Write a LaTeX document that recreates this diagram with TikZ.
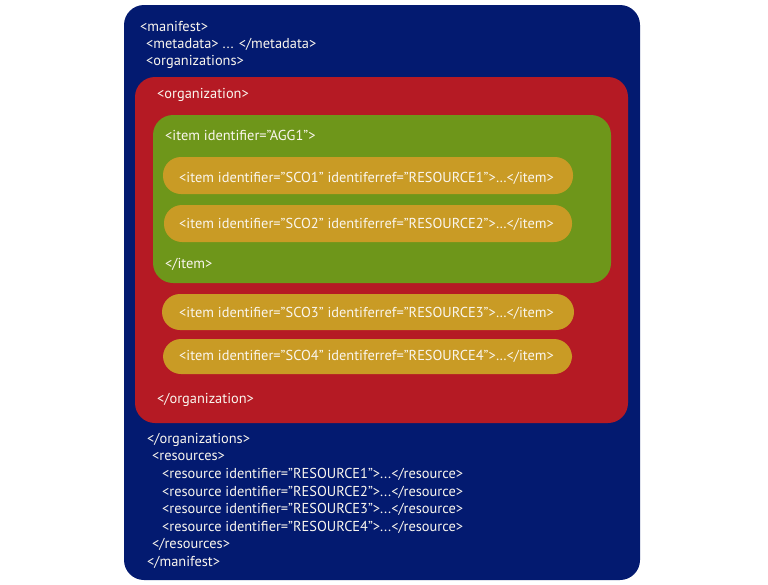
\documentclass[tikz,border=0pt]{standalone}
\usepackage{fontspec}
\setmainfont{PT Sans}
\definecolor{navy}{HTML}{031A70}
\definecolor{xred}{HTML}{B51A24}
\definecolor{xgreen}{HTML}{6E961A}
\definecolor{gold}{HTML}{C99B25}
\definecolor{txt}{HTML}{FAF6EE}
\begin{document}
\begin{tikzpicture}[x=1pt,y=-1pt,
  panel/.style={rounded corners=20pt},
  pill/.style={fill=gold, rounded corners=18pt},
  code/.style={anchor=base west, inner sep=0pt, text=txt, font=\fontsize{14.4}{16}\selectfont}]
\useasboundingbox (0,0) rectangle (768,584);
\fill[white] (0,0) rectangle (768,584);
% panels
\fill[navy, panel] (124,5) rectangle (640,580);
\fill[xred, panel] (135,77) rectangle (628,423);
\fill[xgreen, panel] (153,115) rectangle (611,283);
\fill[pill] (163,157) rectangle (573,194);
\fill[pill] (164,205) rectangle (572,242);
\fill[pill] (162,294) rectangle (574,330);
\fill[pill] (163,339) rectangle (572,374);
% text
\node[code] (t1) at (140,31) {<manifest>};
\node[code] (t2) at (146,48) {<metadata> ... </metadata>};
\node[code] (t3) at (146,65) {<organizations>};
\node[code] (t4) at (157,98) {<organization>};
\node[code] (t5) at (165,140) {<item identifier="AGG1">};
\node[code] (t6) at (179,182) {<item identifier="SCO1" identiferref="RESOURCE1">…</item>};
\node[code] (t7) at (179,228) {<item identifier="SCO2" identiferref="RESOURCE2">…</item>};
\node[code] (t8) at (165,268) {</item>};
\node[code] (t9) at (179,317) {<item identifier="SCO3" identiferref="RESOURCE3">…</item>};
\node[code] (t10) at (179,360) {<item identifier="SCO4" identiferref="RESOURCE4">…</item>};
\node[code] (t11) at (157,403) {</organization>};
\node[code] (t12) at (147,443) {</organizations>};
\node[code] (t13) at (152,460) {<resources>};
\node[code] (t14) at (162,478) {<resource identifier="RESOURCE1">...</resource>};
\node[code] (t15) at (162,496) {<resource identifier="RESOURCE2">...</resource>};
\node[code] (t16) at (162,513) {<resource identifier="RESOURCE3">...</resource>};
\node[code] (t17) at (162,531) {<resource identifier="RESOURCE4">...</resource>};
\node[code] (t18) at (152,548) {</resources>};
\node[code] (t19) at (147,566) {</manifest>};
\end{tikzpicture}
\end{document}
